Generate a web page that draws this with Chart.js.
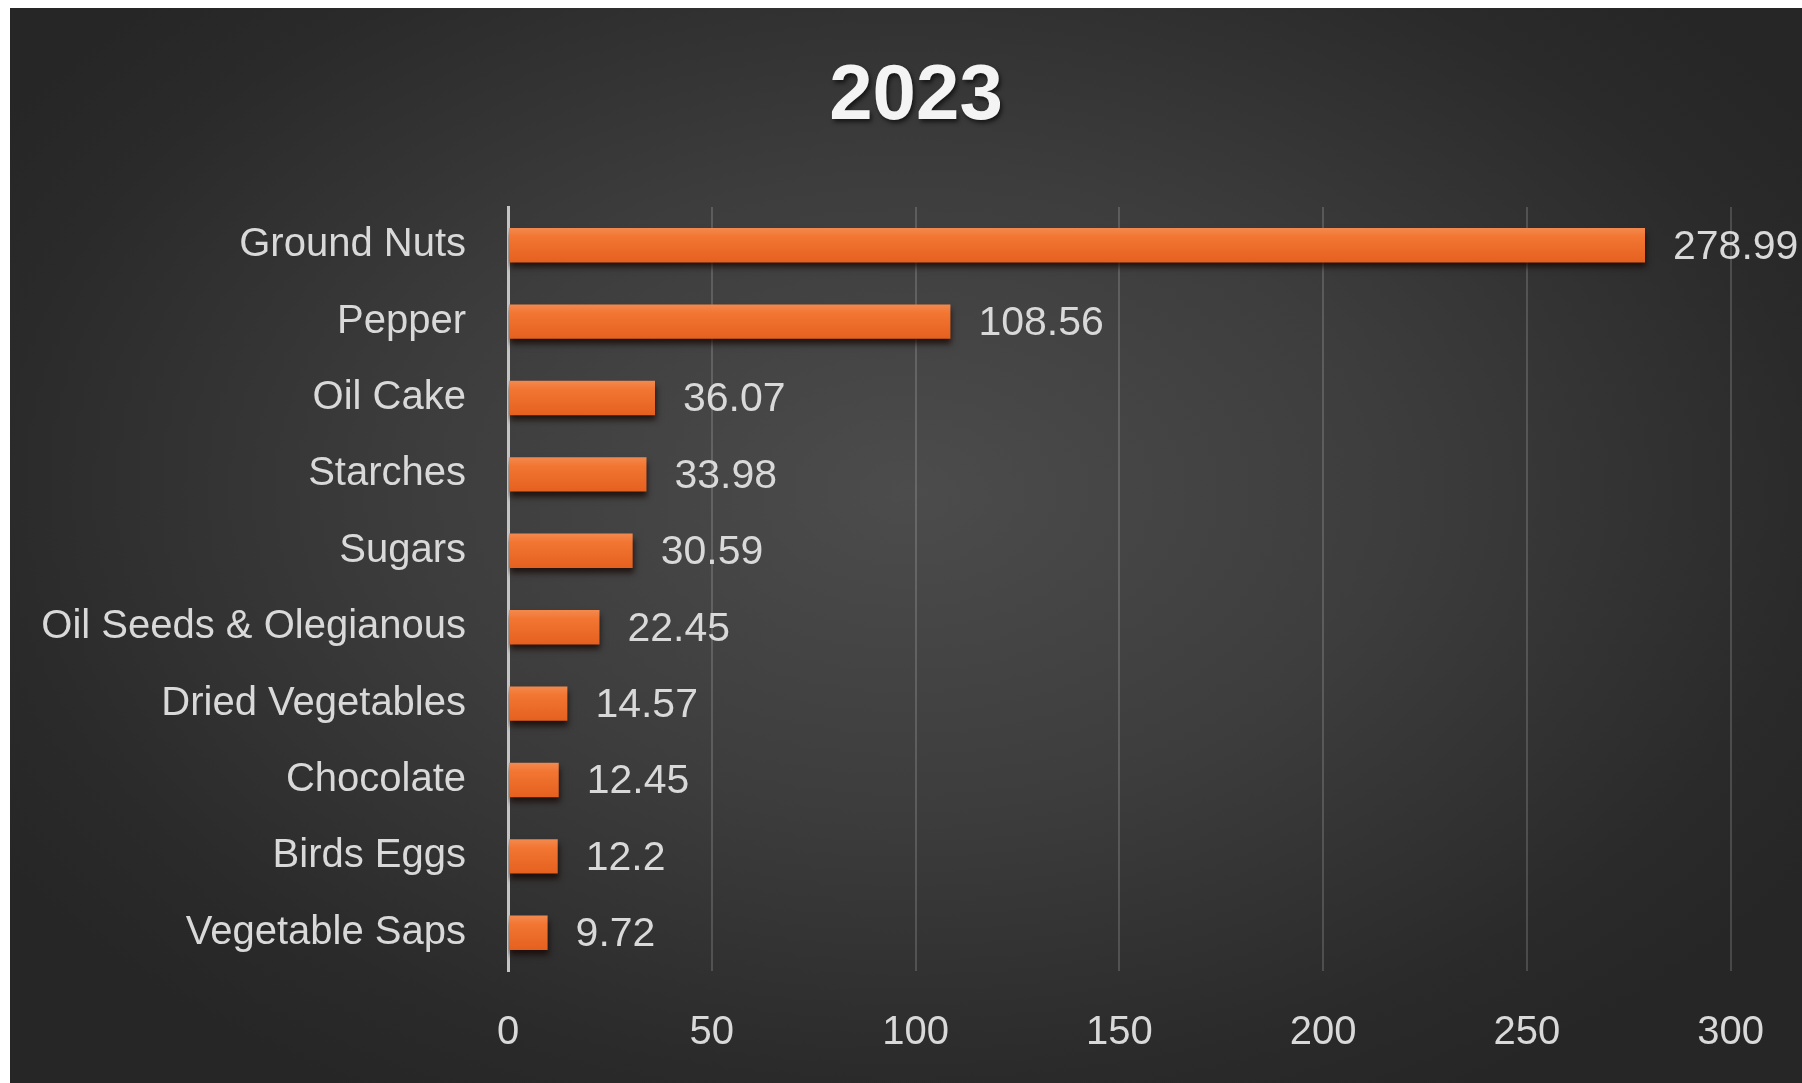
<!DOCTYPE html>
<html>
<head>
<meta charset="utf-8">
<title>2023</title>
<script src="https://cdn.jsdelivr.net/npm/chart.js@4/dist/chart.umd.min.js"></script>
<style>
  html, body { margin: 0; padding: 0; background: #fff; }
  #wrap {
    position: absolute; left: 10px; top: 8px;
    width: 1792px; height: 1075px;
    background: radial-gradient(ellipse 60% 65% at 50% 45%, #4c4c4c 0%, #3d3d3d 45%, #2a2a2a 85%, #262626 100%);
  }
</style>
</head>
<body>
<div id="wrap"><canvas id="chart"></canvas></div>
<script>
// chart data
const categories = ['Ground Nuts', 'Pepper', 'Oil Cake', 'Starches', 'Sugars',
  'Oil Seeds & Olegianous', 'Dried Vegetables', 'Chocolate', 'Birds Eggs', 'Vegetable Saps'];
const values = [278.99, 108.56, 36.07, 33.98, 30.59, 22.45, 14.57, 12.45, 12.2, 9.72];
const xTicks = [0, 50, 100, 150, 200, 250, 300];
const titleText = '2023';

const FONT = "'Liberation Sans', Arial, sans-serif";
const TEXT = '#d9d9d9';
const BAR_PCT = 0.45;

// orange fill shaded top to bottom, one gradient per bar
function barFill(c) {
  const chart = c.chart;
  const y = chart.scales.y;
  if (!chart.chartArea || !y || c.dataIndex === undefined) return '#ee6b29';
  const cy = y.getPixelForValue(c.dataIndex);
  const h = y.height / categories.length * BAR_PCT;
  const g = chart.ctx.createLinearGradient(0, cy - h / 2, 0, cy + h / 2);
  g.addColorStop(0, '#f3894f');
  g.addColorStop(0.25, '#f27632');
  g.addColorStop(1, '#e5601f');
  return g;
}

// soft shadow under the bars
const barShadow = {
  id: 'barShadow',
  beforeDatasetDraw(chart) {
    const ctx = chart.ctx;
    ctx.save();
    ctx.shadowColor = 'rgba(20,5,0,0.75)';
    ctx.shadowBlur = 6;
    ctx.shadowOffsetY = 5;
    ctx.shadowOffsetX = 1;
  },
  afterDatasetDraw(chart) {
    chart.ctx.restore();
  }
};

// value labels at bar ends
const valueLabels = {
  id: 'valueLabels',
  afterDatasetsDraw(chart) {
    const ctx = chart.ctx;
    const meta = chart.getDatasetMeta(0);
    ctx.save();
    ctx.font = '41px ' + FONT;
    ctx.fillStyle = TEXT;
    ctx.textAlign = 'left';
    ctx.textBaseline = 'middle';
    meta.data.forEach((bar, i) => {
      ctx.fillText(String(values[i]), bar.x + 28, bar.y + 2);
    });
    ctx.restore();
  }
};

// title centred on the whole chart box (not the padded layout)
const chartTitle = {
  id: 'chartTitle',
  afterDraw(chart) {
    const ctx = chart.ctx;
    ctx.save();
    ctx.font = 'bold 78px ' + FONT;
    ctx.fillStyle = '#f4f4f4';
    ctx.textAlign = 'center';
    ctx.textBaseline = 'middle';
    ctx.shadowColor = 'rgba(0,0,0,0.6)';
    ctx.shadowBlur = 4;
    ctx.shadowOffsetX = 2;
    ctx.shadowOffsetY = 3;
    ctx.fillText(titleText, 906, 89);
    ctx.restore();
  }
};

new Chart(document.getElementById('chart'), {
  type: 'bar',
  data: {
    labels: categories,
    datasets: [{
      data: values,
      backgroundColor: barFill,
      borderWidth: 0,
      barPercentage: BAR_PCT,
      categoryPercentage: 1.0
    }]
  },
  options: {
    indexAxis: 'y',
    responsive: true,
    maintainAspectRatio: false,
    animation: false,
    layout: { padding: { left: 0, right: 70, top: 199, bottom: 0 } },
    plugins: {
      legend: { display: false },
      tooltip: { enabled: false },
      title: { display: false }
    },
    scales: {
      x: {
        min: 0,
        max: 300,
        afterBuildTicks: s => { s.ticks = xTicks.map(v => ({ value: v })); },
        afterFit: s => { s.height = 112; },
        grid: { color: 'rgba(255,255,255,0.16)', lineWidth: 2, drawTicks: false },
        border: { display: false },
        ticks: { color: TEXT, font: { family: FONT, size: 40 }, padding: 38 }
      },
      y: {
        afterFit: s => { s.width = 498; },
        grid: { display: false, drawTicks: false },
        border: { display: true, color: '#c4c4c4', width: 3 },
        ticks: { color: TEXT, font: { family: FONT, size: 40 }, padding: 42 }
      }
    }
  },
  plugins: [barShadow, valueLabels, chartTitle]
});
</script>
</body>
</html>
